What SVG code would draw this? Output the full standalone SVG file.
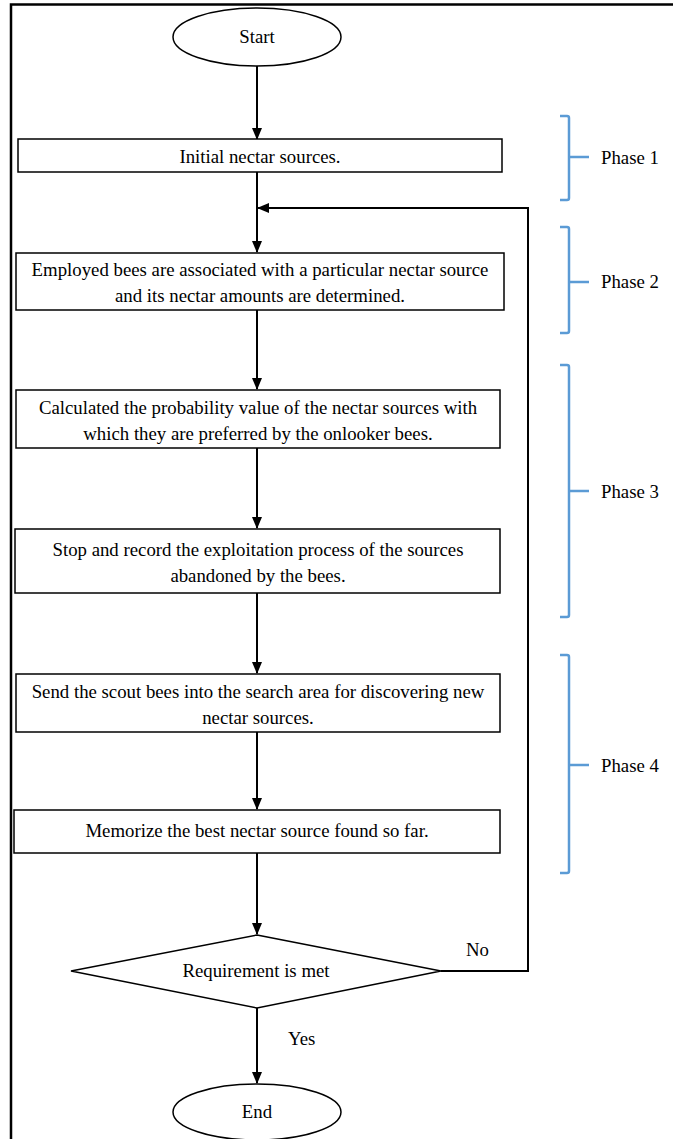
<svg xmlns="http://www.w3.org/2000/svg" width="673" height="1139" viewBox="0 0 673 1139">
<style>
.box{fill:#fff;stroke:#000;stroke-width:1.5}
text{font-family:'Liberation Serif','Times New Roman',Times,serif;font-size:18.8px;fill:#000}
.t{text-anchor:middle}
.c{fill:none;stroke:#000;stroke-width:2}
.br{fill:none;stroke:#5B9BD5;stroke-width:2.5}
</style>
<defs>
<marker id="ah" markerWidth="12" markerHeight="12" refX="11" refY="6" orient="auto" markerUnits="userSpaceOnUse">
<path d="M0,1 L12,6 L0,11 Z" fill="#000"/>
</marker>
</defs>
<rect x="0" y="0" width="673" height="1139" fill="#fff"/>
<path d="M11,1139 V4.5 H673" fill="none" stroke="#000" stroke-width="2.5"/>
<g id="connectors">
<line class="c" x1="257" y1="66" x2="257" y2="139" marker-end="url(#ah)"/>
<line class="c" x1="257" y1="172" x2="257" y2="252" marker-end="url(#ah)"/>
<line class="c" x1="257" y1="310" x2="257" y2="389" marker-end="url(#ah)"/>
<line class="c" x1="257" y1="448" x2="257" y2="528" marker-end="url(#ah)"/>
<line class="c" x1="257" y1="593" x2="257" y2="673" marker-end="url(#ah)"/>
<line class="c" x1="257" y1="732" x2="257" y2="809" marker-end="url(#ah)"/>
<line class="c" x1="257" y1="853" x2="257" y2="934" marker-end="url(#ah)"/>
<line class="c" x1="257" y1="1008" x2="257" y2="1083" marker-end="url(#ah)"/>
<polyline class="c" points="441,971 528,971 528,208 258,208" marker-end="url(#ah)"/>
<text x="466" y="956">No</text>
<text x="288" y="1045">Yes</text>
</g>
<g id="start">
<ellipse class="box" cx="257" cy="37" rx="84" ry="29"/>
<text class="t" x="257" y="43">Start</text>
</g>
<g id="initial">
<rect class="box" x="18" y="139" width="484" height="33"/>
<text class="t" x="260" y="163">Initial nectar sources.</text>
</g>
<g id="employed">
<rect class="box" x="16" y="253" width="488" height="57"/>
<text class="t" x="260" y="276">Employed bees are associated with a particular nectar source</text>
<text class="t" x="260" y="302">and its nectar amounts are determined.</text>
</g>
<g id="calculated">
<rect class="box" x="16" y="390" width="484" height="58"/>
<text class="t" x="258" y="414">Calculated the probability value of the nectar sources with</text>
<text class="t" x="258" y="440">which they are preferred by the onlooker bees.</text>
</g>
<g id="stop">
<rect class="box" x="15" y="529" width="485" height="64"/>
<text class="t" x="258" y="556">Stop and record the exploitation process of the sources</text>
<text class="t" x="258" y="582">abandoned by the bees.</text>
</g>
<g id="scout">
<rect class="box" x="16" y="674" width="484" height="58"/>
<text class="t" x="258" y="698">Send the scout bees into the search area for discovering new</text>
<text class="t" x="258" y="724">nectar sources.</text>
</g>
<g id="memorize">
<rect class="box" x="14" y="810" width="486" height="43"/>
<text class="t" x="257" y="837">Memorize the best nectar source found so far.</text>
</g>
<g id="decision">
<polygon class="box" points="257,935 441,971 257,1008 71,971"/>
<text class="t" x="256" y="977">Requirement is met</text>
</g>
<g id="end">
<ellipse class="box" cx="257" cy="1112" rx="84" ry="28"/>
<text class="t" x="257" y="1118">End</text>
</g>
<g id="phase1">
<path class="br" d="M560,116 H567 Q569,116 569,118 V198 Q569,200 567,200 H560 M569,157 H589"/>
<text x="601" y="164">Phase 1</text>
</g>
<g id="phase2">
<path class="br" d="M560,227 H567 Q569,227 569,229 V331 Q569,333 567,333 H560 M569,282 H589"/>
<text x="601" y="288">Phase 2</text>
</g>
<g id="phase3">
<path class="br" d="M560,365 H567 Q569,365 569,367 V615 Q569,617 567,617 H560 M569,491 H589"/>
<text x="601" y="498">Phase 3</text>
</g>
<g id="phase4">
<path class="br" d="M560,655 H567 Q569,655 569,657 V871 Q569,873 567,873 H560 M569,765 H589"/>
<text x="601" y="772">Phase 4</text>
</g>
</svg>
